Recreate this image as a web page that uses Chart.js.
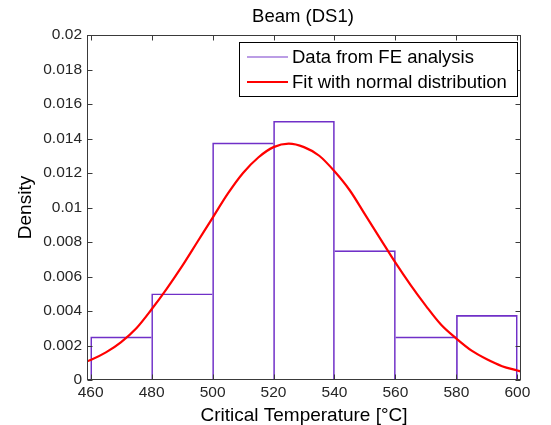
<!DOCTYPE html>
<html lang="en">
<head>
    <meta charset="UTF-8">
    <title>Beam (DS1)</title>
    <script src="https://cdn.jsdelivr.net/npm/chart.js"></script>
    <style>
        html, body {
            margin: 0;
            padding: 0;
            background: #ffffff;
        }
        .chart-container {
            width: 551px;
            height: 425px;
        }
    </style>
</head>
<body>
    <div class="chart-container">
        <canvas id="histChart"></canvas>
    </div>

    <script>
        // histogram bins (centre of each 20 degree bin) and densities
        const binCenters = [470, 490, 510, 530, 550, 570, 590];
        const binDensity = [0.0025, 0.005, 0.01375, 0.015, 0.0075, 0.0025, 0.00375];

        // normal fit, every 5 degrees
        const fitTemp = [459, 460, 465, 470, 475, 480, 485, 490, 495, 500, 505, 510, 515, 520, 525,
                         530, 535, 540, 545, 550, 555, 560, 565, 570, 575, 580, 585, 590, 595, 600, 601];
        const fitDensity = [0.0011, 0.00116, 0.0016, 0.0022, 0.003, 0.0041, 0.0053, 0.0066, 0.008, 0.0094, 0.0108, 0.012, 0.0129, 0.0135, 0.0137,
                            0.0135, 0.013, 0.0121, 0.011, 0.0096, 0.0082, 0.0068, 0.0055, 0.0043, 0.0032, 0.0024, 0.0017, 0.0012, 0.0008, 0.00055, 0.0005];

        const xTicks = [460, 480, 500, 520, 540, 560, 580, 600];
        const xTickLabels = ['460', '480', '500', '520', '540', '560', '580', '600'];
        const yTicks = [0, 0.002, 0.004, 0.006, 0.008, 0.01, 0.012, 0.014, 0.016, 0.018, 0.02];
        const yTickLabels = ['0', '0.002', '0.004', '0.006', '0.008', '0.01', '0.012', '0.014', '0.016', '0.018', '0.02'];

        const barColor = 'rgb(112, 48, 200)';
        const barLegendColor = 'rgb(165, 125, 220)';
        const fitColor = 'rgb(255, 0, 0)';
        const axisColor = '#3a3a3a';
        const tickTextColor = '#262626';
        const fontFamily = "'Liberation Sans', Arial, sans-serif";

        // only the taller of two neighbouring bars draws the shared edge
        function barBorder(ctx) {
            const i = ctx.dataIndex;
            const h = binDensity;
            return {
                top: 1,
                bottom: 0,
                left: (i === 0 || h[i] >= h[i - 1]) ? 1 : 0,
                right: (i === h.length - 1 || h[i] > h[i + 1]) ? 1 : 0
            };
        }

        // MATLAB-like box with inward ticks, title and legend
        const matlabAxes = {
            id: 'matlabAxes',
            afterDatasetsDraw(chart) {
                const ctx = chart.ctx;
                const area = chart.chartArea;
                const xs = chart.scales.x;
                const ys = chart.scales.y;
                const tl = 5;
                ctx.save();
                ctx.strokeStyle = axisColor;
                ctx.lineWidth = 1;
                const L = Math.round(area.left) + 0.5;
                const R = Math.round(area.right) - 0.5;
                const T = Math.round(area.top) + 0.5;
                const B = Math.round(area.bottom) - 0.5;
                ctx.strokeRect(L, T, R - L, B - T);
                ctx.beginPath();
                xTicks.forEach(v => {
                    const px = Math.round(xs.getPixelForValue(v)) + 0.5;
                    ctx.moveTo(px, B); ctx.lineTo(px, B - tl);
                    ctx.moveTo(px, T); ctx.lineTo(px, T + tl);
                });
                yTicks.forEach(v => {
                    const py = Math.round(ys.getPixelForValue(v)) + 0.5;
                    ctx.moveTo(L, py); ctx.lineTo(L + tl, py);
                    ctx.moveTo(R, py); ctx.lineTo(R - tl, py);
                });
                ctx.stroke();

                // title over the plot area
                ctx.fillStyle = '#000000';
                ctx.font = '18.5px ' + fontFamily;
                ctx.textAlign = 'center';
                ctx.textBaseline = 'middle';
                ctx.fillText('Beam (DS1)', (area.left + area.right) / 2 - 1, 17);

                // legend box
                const bx = area.right - 282;
                const by = area.top + 7;
                const bw = 278;
                const bh = 54;
                ctx.fillStyle = '#ffffff';
                ctx.fillRect(bx, by, bw, bh);
                ctx.strokeStyle = '#000000';
                ctx.strokeRect(Math.round(bx) + 0.5, Math.round(by) + 0.5, bw, bh);
                ctx.font = '18.5px ' + fontFamily;
                ctx.textAlign = 'left';
                chart.data.datasets.forEach((ds, i) => {
                    const rowY = by + 15 + i * 25;
                    ctx.strokeStyle = ds.legendColor;
                    ctx.lineWidth = i === 0 ? 1.5 : 2;
                    ctx.beginPath();
                    ctx.moveTo(bx + 8, rowY);
                    ctx.lineTo(bx + 49, rowY);
                    ctx.stroke();
                    ctx.fillStyle = '#000000';
                    ctx.fillText(ds.label, bx + 53, rowY + 1);
                });
                ctx.restore();
            }
        };

        new Chart(document.getElementById('histChart').getContext('2d'), {
            data: {
                datasets: [
                    {
                        type: 'bar',
                        label: 'Data from FE analysis',
                        data: binCenters.map((x, i) => ({ x: x, y: binDensity[i] })),
                        backgroundColor: 'rgba(255, 255, 255, 0)',
                        borderColor: barColor,
                        borderWidth: barBorder,
                        borderSkipped: false,
                        barPercentage: 1,
                        categoryPercentage: 1,
                        legendColor: barLegendColor,
                        order: 2
                    },
                    {
                        type: 'line',
                        label: 'Fit with normal distribution',
                        data: fitTemp.map((x, i) => ({ x: x, y: fitDensity[i] })),
                        borderColor: fitColor,
                        borderWidth: 2.2,
                        pointRadius: 0,
                        fill: false,
                        cubicInterpolationMode: 'monotone',
                        legendColor: fitColor,
                        order: 1
                    }
                ]
            },
            options: {
                responsive: true,
                maintainAspectRatio: false,
                animation: false,
                layout: { padding: { top: 35, right: 30, left: 0, bottom: 0 } },
                plugins: {
                    legend: { display: false },
                    title: { display: false },
                    tooltip: { enabled: false }
                },
                scales: {
                    x: {
                        type: 'linear',
                        min: 458.8,
                        max: 601.2,
                        offset: false,
                        afterBuildTicks: s => { s.ticks = xTicks.map(v => ({ value: v })); },
                        afterFit: s => { s.height = 45; },
                        grid: { display: false, drawTicks: false },
                        border: { display: false },
                        ticks: {
                            autoSkip: false,
                            maxRotation: 0,
                            padding: 3,
                            color: tickTextColor,
                            font: { family: fontFamily, size: 15.5 },
                            callback: (v, i) => xTickLabels[i]
                        },
                        title: {
                            display: true,
                            text: 'Critical Temperature [°C]',
                            color: '#000000',
                            font: { family: fontFamily, size: 19, lineHeight: 1 },
                            padding: { top: 0, bottom: 0 }
                        }
                    },
                    y: {
                        type: 'linear',
                        min: 0,
                        max: 0.02,
                        afterBuildTicks: s => { s.ticks = yTicks.map(v => ({ value: v })); },
                        afterFit: s => { s.width = 87; },
                        grid: { display: false, drawTicks: false },
                        border: { display: false },
                        ticks: {
                            autoSkip: false,
                            padding: 5,
                            color: tickTextColor,
                            font: { family: fontFamily, size: 15.5 },
                            callback: (v, i) => yTickLabels[i]
                        },
                        title: {
                            display: true,
                            text: 'Density',
                            color: '#000000',
                            font: { family: fontFamily, size: 19, lineHeight: 1 },
                            padding: { top: 16, bottom: 0 }
                        }
                    }
                }
            },
            plugins: [matlabAxes]
        });
    </script>
</body>
</html>
